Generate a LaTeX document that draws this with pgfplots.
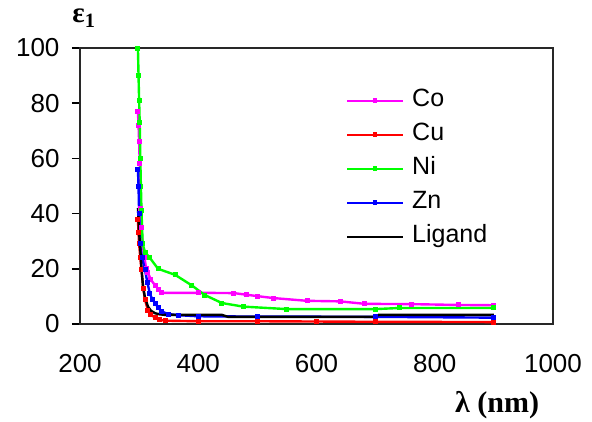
\documentclass[border=0pt]{standalone}
\usepackage{pgfplots}
\pgfplotsset{compat=1.18}
\usepackage{fontspec}
\setmainfont{Liberation Serif}
\setsansfont{Liberation Sans}

% real part of the dielectric constant versus wavelength
\pgfplotstableread{
lam eps
298 76.9
299 72
300 66
301 58
302 50
303 42
304 35
306 29
309 24
312 20
315 18.5
320 16
327 14
333 12.5
338 11.3
400 11.3
460 11.2
482 10.6
500 10.1
527 9.4
584 8.4
640 8.2
682 7.3
760 7.2
840 6.9
900 6.8
}\Co
\pgfplotstableread{
lam eps
298 37.7
299 33
300 29
302 24
304 19.6
307 13
310 8.7
315 5
320 3.5
327 2.2
335 1.5
344 1.2
400 1.0
500 1.0
600 0.9
700 0.8
900 0.7
}\Cu
\pgfplotstableread{
lam eps
298 100
299 90
300 81
301 73
302 60
303 50
304 41
306 29
310 26
318 24
332 20
361 17.8
389 14
411 10.5
440 7.6
476 6.3
550 5.4
700 5.4
740 5.8
900 5.8
}\Ni
\pgfplotstableread{
lam eps
298 56
299 50
300 40
301.5 29
305 24
310 19.6
314 15
318 11.2
322 9
327 7.6
332 6
338 4.5
350 3.6
366 3.2
400 2.8
500 2.7
700 2.6
900 2.3
}\Zn
\pgfplotstableread{
lam eps
298 42
299 38
300 33
301.5 29
304 20
306.6 13.5
310 9.5
315 6.3
320 4.8
327 3.9
335 3.5
344 3.3
440 3.3
450 2.6
700 2.6
705 3.3
900 3.3
}\Ligand

\definecolor{framegray}{RGB}{40,40,40}
\definecolor{cMag}{RGB}{255,0,255}
\definecolor{cRed}{RGB}{255,0,0}
\definecolor{cGreen}{RGB}{0,255,0}
\definecolor{cBlue}{RGB}{0,0,255}

\begin{document}
\begin{tikzpicture}
\path[use as bounding box] (-80pt,-97pt) rectangle (512pt,324pt);
\begin{axis}[
  scale only axis,
  width=473pt, height=276pt,
  xmin=200, xmax=1000, ymin=0, ymax=100,
  xtick={200,400,600,800,1000},
  ytick={0,20,40,60,80,100},
  ytick pos=left,
  axis line style={line width=1.5pt, framegray},
  tick align=outside,
  major tick length=8pt,
  xtick style={draw=none},
  ytick style={line width=1.5pt, black},
  y tick label style={font=\fontsize{26}{30}\selectfont\sffamily, xshift=-9pt},
  x tick label style={font=\fontsize{26}{30}\selectfont\sffamily, yshift=-19pt},
  /pgf/number format/assume math mode=true,
  /pgf/number format/1000 sep={},
  every axis y label/.style={at={(rel axis cs:0,1)}, anchor=center, xshift=4pt, yshift=30pt},
  every axis x label/.style={at={(rel axis cs:0.882,0)}, anchor=center, yshift=-81pt},
  ylabel={\fontsize{29}{32}\selectfont\bfseries ε\textsubscript{1}},
  xlabel={\fontsize{30}{34}\selectfont\bfseries λ (nm)},
  legend style={at={(rel axis cs:0.562,0.85)}, anchor=north west, draw=none, fill=none,
    font=\fontsize{25}{28}\selectfont\sffamily, inner sep=0pt, row sep=12pt,
    nodes={inner sep=0pt, text height=17pt, text depth=5pt}},
  legend cell align=left,
  legend image code/.code={
    \draw[mark repeat=2, mark phase=2, line width=2pt] plot coordinates {(0pt,0pt) (28pt,0pt) (56pt,0pt)};
    \path (64pt,0pt);
  },
  every axis plot/.append style={line width=2.4pt, mark size=1.3pt},
]
\addplot[cMag, mark=square*] table[x=lam, y=eps] {\Co};
\addlegendentry{Co}
\addplot[cRed, mark=square*] table[x=lam, y=eps] {\Cu};
\addlegendentry{Cu}
\addplot[cGreen, mark=square*] table[x=lam, y=eps] {\Ni};
\addlegendentry{Ni}
\addplot[cBlue, mark=square*] table[x=lam, y=eps] {\Zn};
\addlegendentry{Zn}
\addplot[black, no marks] table[x=lam, y=eps] {\Ligand};
\addlegendentry{Ligand}
\end{axis}
\end{tikzpicture}
\end{document}
